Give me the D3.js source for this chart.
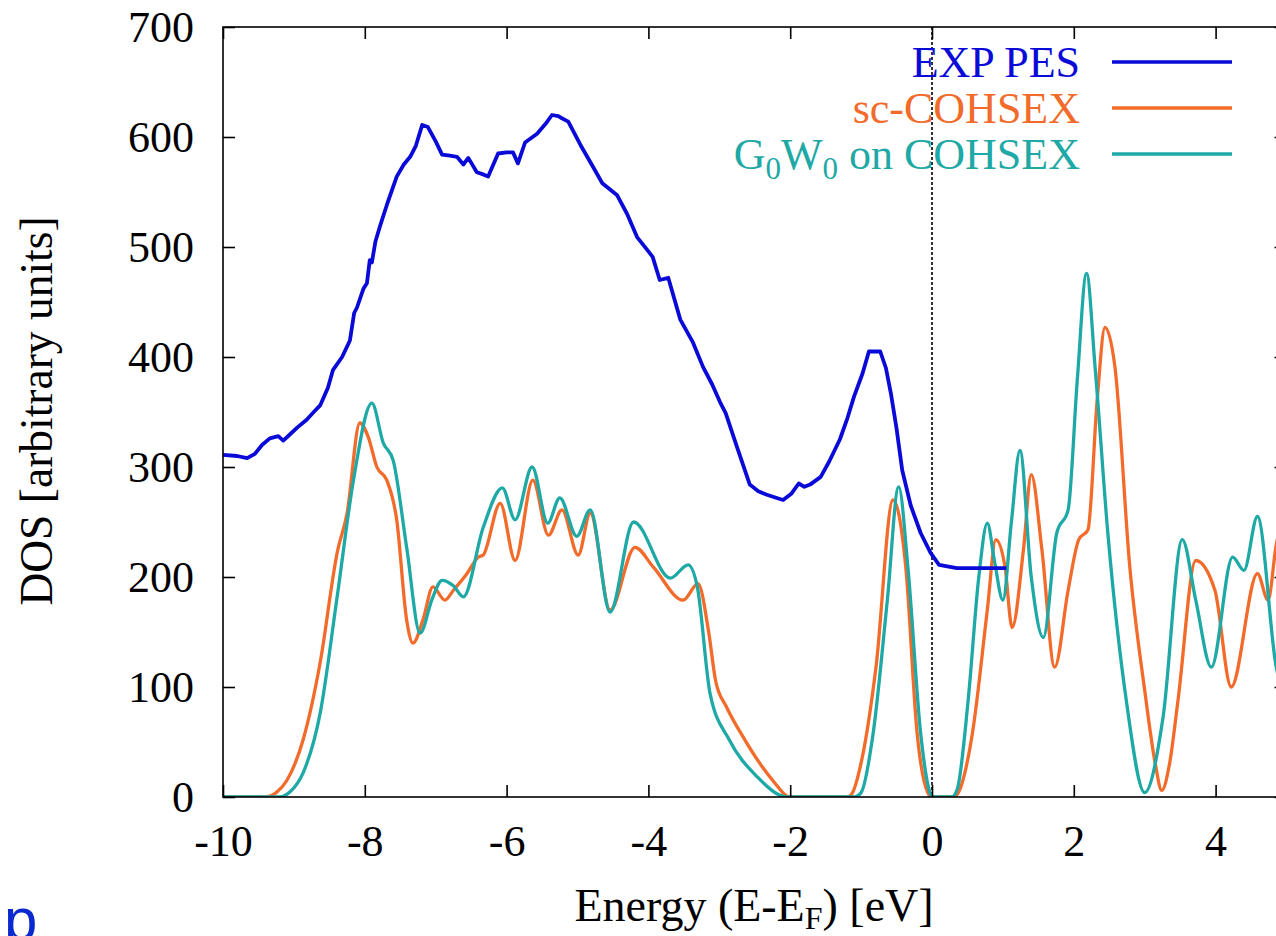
<!DOCTYPE html>
<html><head><meta charset="utf-8">
<script src="https://cdn.jsdelivr.net/npm/d3@7"></script>
<style>body{margin:0;background:#fff;overflow:hidden}svg{display:block}</style>
</head><body>
<svg id="c" width="1276" height="936"></svg>
<script>
// ---- data (energy eV, DOS arbitrary units) ----
const xTicks = [-10,-8,-6,-4,-2,0,2,4];
const yTicks = [0,100,200,300,400,500,600,700];
const seriesNames = ["EXP PES","sc-COHSEX","G0W0 on COHSEX"];

const expPES = [[-10,311],[-9.8,310],[-9.66,308],[-9.55,312],[-9.45,320],[-9.34,326],[-9.22,328],[-9.15,324],[-9.05,330],[-8.95,336],[-8.82,343],[-8.72,350],[-8.63,356],[-8.52,372],[-8.45,388],[-8.32,400],[-8.21,415],[-8.15,440],[-8.11,445],[-8.02,462],[-7.97,467],[-7.93,488],[-7.9,486],[-7.85,505],[-7.79,518],[-7.68,540],[-7.55,564],[-7.45,575],[-7.36,582],[-7.28,592],[-7.19,611],[-7.11,609],[-7.0,596],[-6.91,584],[-6.8,583],[-6.7,582],[-6.61,575],[-6.54,581],[-6.42,568],[-6.33,566],[-6.26,564],[-6.12,585],[-6.0,586],[-5.91,586],[-5.84,576],[-5.74,595],[-5.57,603],[-5.45,612],[-5.36,620],[-5.27,619],[-5.22,617],[-5.13,614],[-4.96,593],[-4.8,575],[-4.65,558],[-4.44,547],[-4.3,530],[-4.16,509],[-4.0,496],[-3.94,491],[-3.84,470],[-3.72,472],[-3.55,434],[-3.37,413],[-3.23,391],[-3.1,375],[-2.99,359],[-2.91,349],[-2.75,318],[-2.57,284],[-2.45,278],[-2.34,275],[-2.2,272],[-2.1,270],[-1.98,276],[-1.88,285],[-1.8,282],[-1.72,284],[-1.57,291],[-1.45,305],[-1.3,325],[-1.2,343],[-1.1,364],[-0.98,385],[-0.89,405],[-0.73,405],[-0.65,390],[-0.58,367],[-0.5,335],[-0.42,297],[-0.3,265],[-0.16,240],[-0.02,222],[0.1,211],[0.35,208],[0.93,208],[1.05,208]];

const scCOHSEX = [[-10,0],[-9.4,0],[-9.25,4],[-9.1,15],[-8.87,52],[-8.63,122],[-8.39,222],[-8.25,258],[-8.07,340],[-7.95,327],[-7.83,300],[-7.69,288],[-7.55,252],[-7.41,161],[-7.32,140],[-7.18,161],[-7.04,191],[-6.87,179],[-6.75,188],[-6.56,203],[-6.4,218],[-6.33,220],[-6.09,267],[-5.88,215],[-5.63,288],[-5.41,238],[-5.22,261],[-4.99,220],[-4.82,258],[-4.54,170],[-4.19,227],[-3.93,209],[-3.51,179],[-3.3,194],[-3.15,150],[-3.05,105],[-2.9,82],[-2.64,52],[-2.4,28],[-2.22,13],[-2.05,1],[-2.0,0],[-1.2,0],[-1.14,2],[-0.99,34],[-0.79,118],[-0.55,270],[-0.37,209],[-0.21,58],[-0.06,4],[0,0],[0.3,0],[0.38,5],[0.57,58],[0.78,170],[0.9,234],[1.03,209],[1.13,154],[1.29,225],[1.4,293],[1.55,225],[1.73,118],[1.92,188],[2.07,234],[2.2,243],[2.33,361],[2.44,427],[2.58,391],[2.79,209],[3.0,97],[3.15,30],[3.24,6],[3.35,30],[3.47,88],[3.72,215],[3.99,188],[4.22,100],[4.59,203],[4.74,179],[4.85,227],[5.0,270]];

const g0w0 = [[-10,0],[-9.2,0],[-9.05,5],[-8.87,22],[-8.63,76],[-8.39,182],[-8.16,288],[-7.9,358],[-7.74,322],[-7.6,306],[-7.41,227],[-7.22,149],[-7.05,180],[-6.91,197],[-6.75,192],[-6.61,182],[-6.33,245],[-6.06,281],[-5.88,252],[-5.64,300],[-5.42,249],[-5.25,272],[-5.01,237],[-4.82,261],[-4.54,168],[-4.21,250],[-3.69,199],[-3.44,211],[-3.31,191],[-3.13,94],[-2.86,52],[-2.46,18],[-2.16,2],[-2.05,0],[-1.1,0],[-1.0,4],[-0.83,58],[-0.63,179],[-0.47,282],[-0.34,209],[-0.16,58],[-0.03,4],[0,0],[0.28,0],[0.36,8],[0.51,88],[0.66,200],[0.78,249],[0.88,215],[1.0,179],[1.12,250],[1.24,315],[1.4,200],[1.57,145],[1.76,240],[1.92,261],[2.05,380],[2.18,476],[2.3,391],[2.48,240],[2.74,88],[3.0,4],[3.26,73],[3.53,234],[3.72,179],[3.94,118],[4.24,218],[4.4,206],[4.59,255],[4.85,120],[5.0,80]];

// ---- styling ----
const colors = ["#0a0ad8","#f26b2a","#1ea9a6"];
const serif = "'Liberation Serif','Times New Roman',serif";

const svg = d3.select("#c");
const x = d3.scaleLinear().domain([-10,5]).range([223,1286.5]);
const y = d3.scaleLinear().domain([0,700]).range([797,27]);
const [x0,x1] = x.range(), [yb,yt] = y.range();

svg.append("defs").append("clipPath").attr("id","pc")
  .append("rect").attr("x",x0).attr("y",yt).attr("width",x1-x0).attr("height",yb-yt);

svg.append("line").attr("x1",x(0)).attr("x2",x(0)).attr("y1",yt).attr("y2",yb)
  .attr("stroke","#000").attr("stroke-width",1.6).attr("stroke-dasharray","3,2");

const lineSmooth = d3.line().x(d=>x(d[0])).y(d=>y(d[1])).curve(d3.curveMonotoneX);
const lineRaw = d3.line().x(d=>x(d[0])).y(d=>y(d[1]));
const g = svg.append("g").attr("clip-path","url(#pc)");
g.append("path").datum(scCOHSEX).attr("d",lineSmooth).attr("fill","none").attr("stroke",colors[1]).attr("stroke-width",3.3).attr("stroke-linejoin","round");
g.append("path").datum(g0w0).attr("d",lineSmooth).attr("fill","none").attr("stroke",colors[2]).attr("stroke-width",3.3).attr("stroke-linejoin","round");
g.append("path").datum(expPES).attr("d",lineRaw).attr("fill","none").attr("stroke",colors[0]).attr("stroke-width",3.8).attr("stroke-linejoin","round");

svg.append("rect").attr("x",x0).attr("y",yt).attr("width",x1-x0).attr("height",yb-yt)
  .attr("fill","none").attr("stroke","#000").attr("stroke-width",1.6);

const tl = 12;
const axB = d3.axisBottom(x).tickValues(xTicks).tickSize(-tl).tickFormat(d=>String(d));
const axT = d3.axisTop(x).tickValues(xTicks).tickSize(-tl).tickFormat("");
const axL = d3.axisLeft(y).tickValues(yTicks).tickSize(-tl).tickFormat(d=>String(d));
const axR = d3.axisRight(y).tickValues(yTicks).tickSize(-tl).tickFormat("");
function styleAxis(s){ s.select(".domain").remove(); s.selectAll("line").attr("stroke","#000").attr("stroke-width",1.6);
  s.selectAll("text").attr("fill","#000").style("font-family",serif).style("font-size","44px"); }
const gB = svg.append("g").attr("transform",`translate(0,${yb})`).call(axB).call(styleAxis);
gB.selectAll("text").attr("dy",null).attr("y",59);
svg.append("g").attr("transform",`translate(0,${yt})`).call(axT).call(styleAxis);
const gL = svg.append("g").attr("transform",`translate(${x0},0)`).call(axL).call(styleAxis);
gL.selectAll("text").attr("dy",null).attr("x",-29).attr("y",14);
svg.append("g").attr("transform",`translate(${x1},0)`).call(axR).call(styleAxis);

const xl = svg.append("text").attr("x",754).attr("y",921).attr("text-anchor","middle")
  .style("font-family",serif).style("font-size","46px").attr("fill","#000");
xl.append("tspan").text("Energy (E-E");
xl.append("tspan").attr("dy",8).style("font-size","32px").text("F");
xl.append("tspan").attr("dy",-8).text(") [eV]");

svg.append("text").attr("transform","translate(52,411) rotate(-90)").attr("text-anchor","middle")
  .style("font-family",serif).style("font-size","45.5px").attr("fill","#000").text("DOS [arbitrary units]");

const legY = [62,108,154];
seriesNames.forEach((name,i)=>{
  const t = svg.append("text").attr("x",1080).attr("y",legY[i]+15).attr("text-anchor","end")
    .style("font-family",serif).style("font-size","44px").attr("fill",colors[i]);
  if(i===2){
    t.append("tspan").text("G");
    t.append("tspan").attr("dy",10).style("font-size","31px").text("0");
    t.append("tspan").attr("dy",-10).text("W");
    t.append("tspan").attr("dy",10).style("font-size","31px").text("0");
    t.append("tspan").attr("dy",-10).text(" on COHSEX");
  } else t.text(name);
  svg.append("line").attr("x1",1112).attr("x2",1232).attr("y1",legY[i]).attr("y2",legY[i])
    .attr("stroke",colors[i]).attr("stroke-width",3.6);
});

svg.append("text").attr("x",4).attr("y",940).style("font-family","'Liberation Sans',Arial,sans-serif")
  .style("font-size","60px").attr("fill","#0a2ad0").text("p");
</script>
</body></html>
